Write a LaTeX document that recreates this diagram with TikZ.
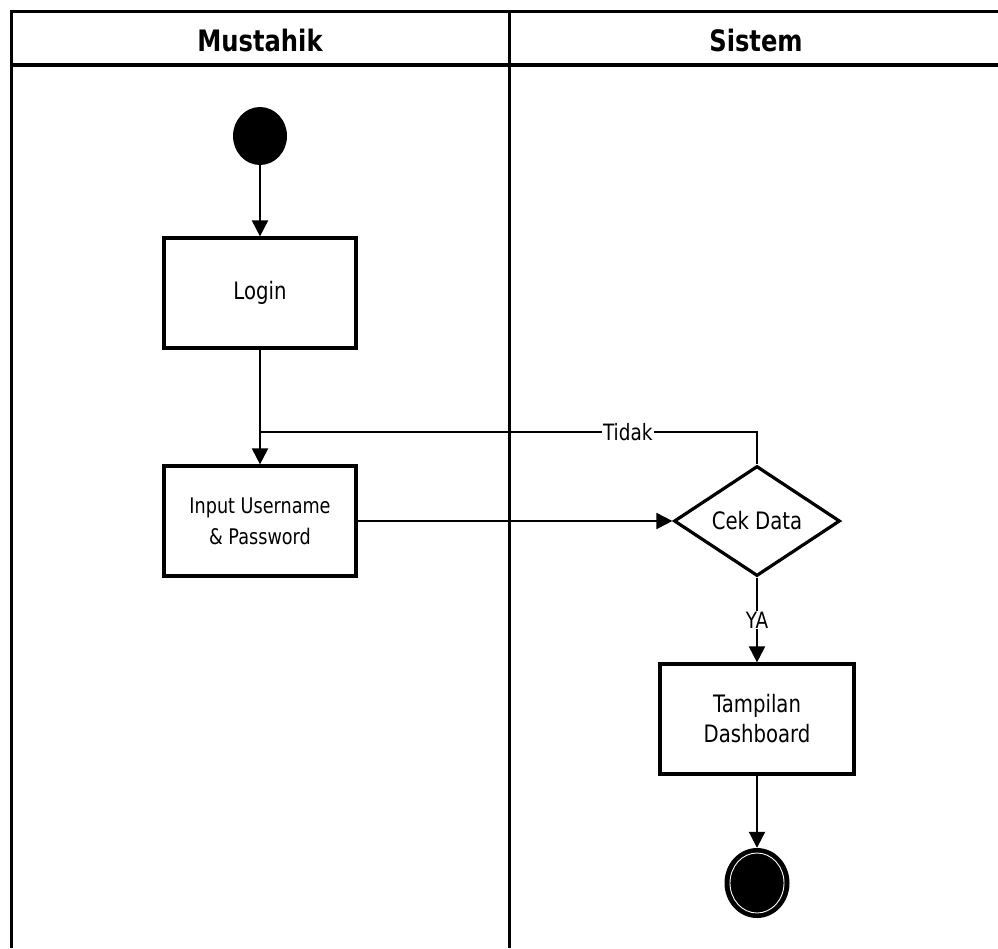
\documentclass[tikz,border=0pt]{standalone}
\usepackage{fontspec}
\setmainfont{DejaVu Sans}[FakeStretch=0.82]
\usetikzlibrary{arrows.meta,shapes.geometric}
\begin{document}
\begin{tikzpicture}[x=1pt,y=-1pt,
  lane/.style={line width=3pt},
  conn/.style={line width=2pt},
  arr/.style={conn,-{Triangle[length=16pt,width=16pt]}},
  act/.style={draw,line width=3.2pt,rectangle,minimum width=192pt,minimum height=110pt,
    inner sep=0pt,align=center,font=\fontsize{24}{30}\selectfont},
  dec/.style={draw,line width=3.2pt,diamond,minimum width=166pt,minimum height=110pt,
    inner sep=0pt,font=\fontsize{24}{28}\selectfont},
  startnode/.style={ellipse,fill=black,minimum width=54pt,minimum height=58pt,inner sep=0pt},
  endnode/.style={ellipse,fill=black,minimum width=65pt,minimum height=70pt,inner sep=0pt},
  head/.style={font=\bfseries\fontsize{29.5}{32}\selectfont},
  lbl/.style={fill=white,inner sep=1pt,font=\fontsize{22.5}{26}\selectfont}]
\useasboundingbox (0,0) rectangle (998,948);

% swimlane frame
\draw[lane] (11,948) -- (11,11) -- (998,11);
\draw[lane] (509,11) -- (509,948);
\draw[line width=4pt] (11,65) -- (998,65);
\node[head] (hmus) at (260,40) {Mustahik};
\node[head] (hsis) at (756,40) {Sistem};

% nodes
\node[startnode] (start) at (260,136) {};
\node[act] (login) at (260,293) {Login};
\node[act,font=\fontsize{21.5}{31}\selectfont] (input) at (260,521) {Input Username\\\& Password};
\node[dec] (cek) at (757,521) {Cek Data};
\node[act,minimum width=194pt] (dash) at (757,719) {Tampilan\\Dashboard};
\node[endnode] (end) at (757,883) {};
\draw[white,line width=0.9pt] (end.center) ellipse [x radius=27, y radius=30];

% connectors
\draw[arr] (start) -- (login);
\draw[arr] (login) -- (input);
\coordinate (join) at (260,432);
\draw[conn] (cek.north) -- (757,432) -- (join)
  node[lbl,pos=0.26] (tidak) {Tidak};
\draw[arr] (input) -- (cek.west);
\draw[arr] (cek.south) -- (dash.north) node[lbl,pos=0.5] (ya) {YA};
\draw[arr] (dash) -- (end);
\end{tikzpicture}
\end{document}
